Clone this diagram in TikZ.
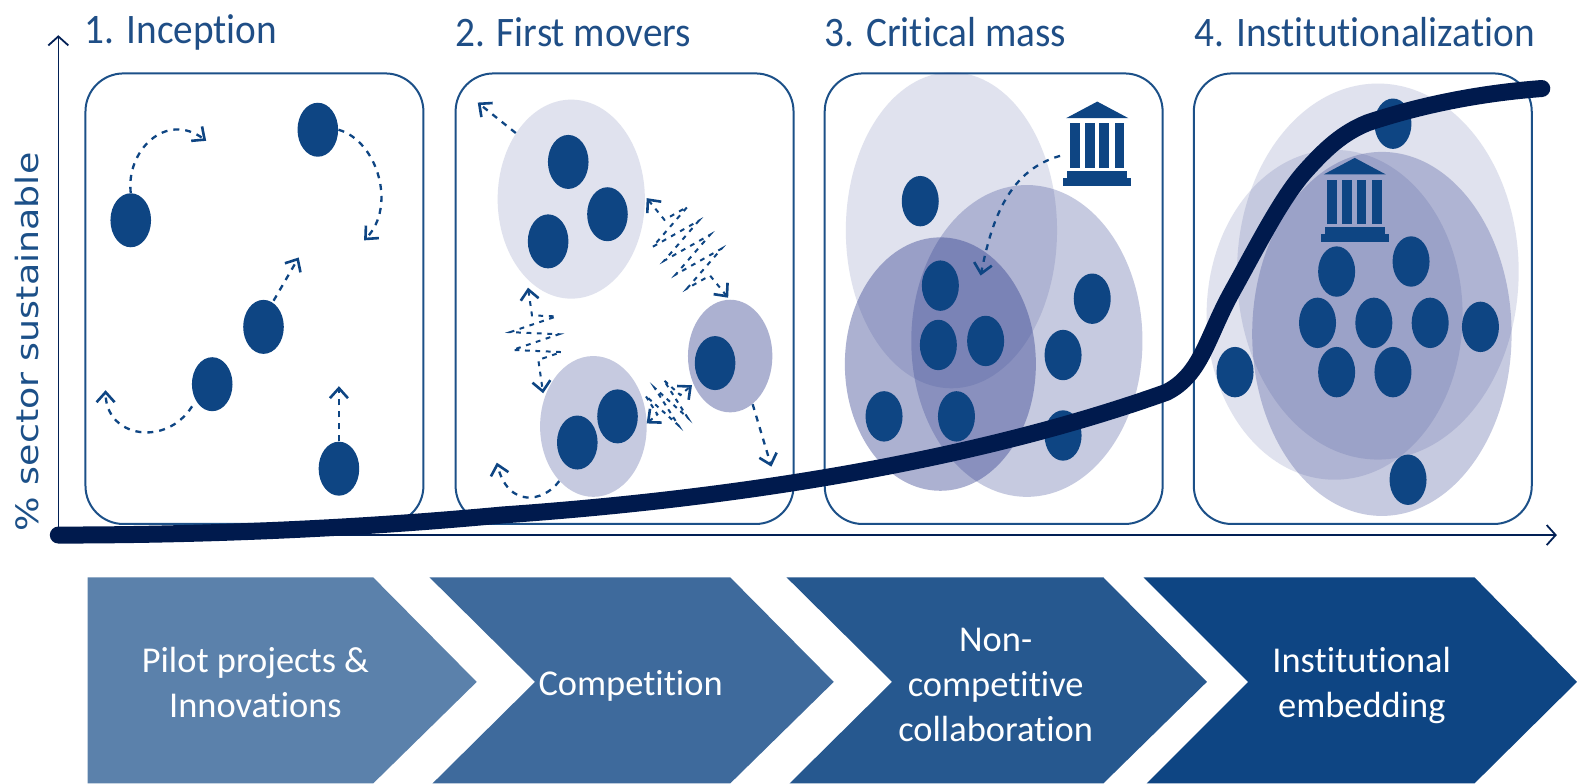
\documentclass[tikz,border=0pt]{standalone}
\usepackage{fontspec}
\setmainfont{Carlito}[Ligatures=NoCommon]
\newfontfamily\axisfont{DejaVu Sans}
\usetikzlibrary{arrows.meta,shapes.geometric,decorations.pathmorphing}
\definecolor{blue1}{HTML}{0E4583}
\definecolor{boxc}{HTML}{1C5088}
\definecolor{navy}{HTML}{001A4D}
\definecolor{tint}{HTML}{263488}
\definecolor{titlec}{HTML}{1F4E86}
\tikzset{
  dot/.style={ellipse,fill=blue1,draw=none,inner sep=0pt,minimum width=20.3pt,minimum height=27pt},
  dotb/.style={dot,minimum width=18.5pt,minimum height=25.2pt},
  stagebox/.style={draw=boxc,line width=1pt,rounded corners=19pt,fill=white},
  titletext/.style={font=\fontsize{21}{21}\selectfont,text=titlec,inner sep=0pt,xscale=.935},
  chevtext/.style={font=\fontsize{18.2}{22.5}\selectfont,text=white,align=center,inner sep=0pt},
  tipv/.tip={Straight Barb[length=5pt,width=9pt,line width=1.3pt]},
  flow/.style={draw=blue1,line width=1.15pt,dash pattern=on 3pt off 3pt,-tipv},
  flowboth/.style={flow,tipv-tipv},
  jag/.style={flowboth,line width=1pt,dash pattern=on 2.4pt off 2.8pt,decorate,decoration={zigzag,amplitude=#1,segment length=9pt,pre length=14pt,post length=14pt}},
  jagshort/.style={flowboth,line width=1pt,dash pattern=on 2.2pt off 2.4pt,decorate,decoration={zigzag,amplitude=#1,segment length=6pt,pre length=7pt,post length=7pt}},
  group/.style={ellipse,fill=tint,draw=none,inner sep=0pt},
  axisline/.style={draw=navy!85!blue1,line width=.8pt,-{Straight Barb[length=4.5pt,width=10pt,line width=.9pt]}},
}
\newcommand{\bank}[2]{%
  \begin{scope}[shift={(#1,#2)}]
    \fill[blue1] (0,0) -- (31,16.5) -- (-31,16.5) -- cycle;
    \fill[blue1] (-27.2,21.5) rectangle (-17.3,65.7);
    \fill[blue1] (-12.3,21.5) rectangle (-2.5,65.7);
    \fill[blue1] (2,21.5) rectangle (11.6,65.7);
    \fill[blue1] (17.3,21.5) rectangle (27,65.7);
    \fill[blue1] (-30,69) rectangle (30,76);
    \fill[blue1] (-34,76) rectangle (34,84);
  \end{scope}}
\begin{document}
\begin{tikzpicture}[x=0.50285pt,y=-0.50285pt]
\useasboundingbox (0,0) rectangle (1568,778.6);
% boxes
\draw[stagebox] (85,73) rectangle (421,521);
\draw[stagebox] (453,73) rectangle (789,521);
\draw[stagebox] (820,73) rectangle (1156,521);
\draw[stagebox] (1187,73) rectangle (1523,521);
% titles
\node[titletext] (t1) at (180,32) {1. Inception};
\node[titletext] (t2) at (570,32) {2. First movers};
\node[titletext] (t3) at (940,32) {3. Critical mass};
\node[titletext] (t4) at (1357,32) {4. Institutionalization};
% axes
\coordinate (origin) at (58,532);
\coordinate (ytop) at (58,35);
\coordinate (xend) at (1548,532);
\draw[axisline] (origin) -- (ytop);
\draw[axisline] (origin) -- (xend);
\node[rotate=90,xscale=1.18,font=\axisfont\fontsize{15.4}{18}\selectfont,text=boxc,inner sep=0pt] (ylab) at (27,340) {\% sector sustainable};
% stage 1
\node[dot] (a1) at (130,219) {};
\node[dot] (a2) at (316,129) {};
\node[dot] (a3) at (262,325) {};
\node[dot] (a4) at (211,382) {};
\node[dot] (a5) at (337,466) {};
\coordinate (a1e) at (205,140);
\coordinate (a2e) at (362,239);
\coordinate (a3e) at (297,256);
\coordinate (a4e) at (105,388);
\coordinate (a5e) at (337,384);
\draw[flow] (a1.north) .. controls (125,150) and (165,110) .. (a1e);
\draw[flow] (a2.east) .. controls (375,140) and (395,205) .. (a2e);
\draw[flow] (a3) ++(10,-26) -- (a3e);
\draw[flow] (a4) ++(-20,22) .. controls (165,445) and (105,435) .. (a4e);
\draw[flow] (a5.north) -- (a5e);
% stage 2
\node[group,fill opacity=.143,minimum width=73.6pt,minimum height=99.5pt] (g1) at (568,198) {};
\node[group,fill opacity=.26,minimum width=53.3pt,minimum height=70.4pt] (g2) at (590,424) {};
\node[group,fill opacity=.38,minimum width=42.2pt,minimum height=56.3pt] (g3) at (726,354) {};
\node[dot] (b1) at (565,161) {};
\node[dot] (b2) at (604,213) {};
\node[dot] (b3) at (545,240) {};
\node[dot] (b4) at (614,414) {};
\node[dot] (b5) at (574,440) {};
\node[dot] (b6) at (711,361) {};
\coordinate (b7e) at (475,102);
\coordinate (g3e) at (767,464);
\coordinate (g2e) at (494,460);
\coordinate (ac1) at (643,197);
\coordinate (ac2) at (724,296);
\coordinate (ab1) at (525,286);
\coordinate (ab2) at (540,391);
\coordinate (bc1) at (643,421);
\coordinate (bc2) at (688,383);
\draw[flow] (g1.130) -- (b7e);
\draw[flow] (g3.-65) -- (g3e);
\draw[flow] (g2.-122) .. controls (540,500) and (505,505) .. (g2e);
\draw[jag=13pt] (ac1) -- (ac2);
\draw[jag=12pt] (ab1) -- (ab2);
\draw[jagshort=11pt] (bc1) -- (bc2);
% stage 3
\node[group,fill opacity=.143,minimum width=105.6pt,minimum height=158pt] (c1) at (946,229) {};
\node[group,fill opacity=.26,minimum width=115.6pt,minimum height=155.9pt] (c2) at (1021,339) {};
\node[group,fill opacity=.38,minimum width=95.5pt,minimum height=126.7pt] (c3) at (935,362) {};
\node[dotb] (d1) at (915,200) {};
\node[dotb] (d2) at (935,284) {};
\node[dotb] (d3) at (933,343) {};
\node[dotb] (d4) at (980,339) {};
\node[dotb] (d5) at (1086,297) {};
\node[dotb] (d6) at (1057,353) {};
\node[dotb] (d7) at (879,414) {};
\node[dotb] (d8) at (951,414) {};
\node[dotb] (d9) at (1057,433) {};
\bank{1091}{101}
\coordinate (bk1) at (1054,155);
\coordinate (d2e) at (975,274);
\draw[flow] (bk1) .. controls (1000,170) and (985,225) .. (d2e);
% stage 4
\node[group,fill opacity=.143,minimum width=140.8pt,minimum height=188pt] (e1) at (1370,270) {};
\node[group,fill opacity=.143,minimum width=128pt,minimum height=164.9pt] (e2) at (1327,313) {};
\node[group,fill opacity=.26,minimum width=129.7pt,minimum height=182pt] (e3) at (1374,332) {};
\node[dotb] (f1) at (1385,123) {};
\node[dotb] (f2) at (1329,270) {};
\node[dotb] (f3) at (1403,260) {};
\node[dotb] (f4) at (1310,321) {};
\node[dotb] (f5) at (1366,321) {};
\node[dotb] (f6) at (1422,321) {};
\node[dotb] (f7) at (1472,325) {};
\node[dotb] (f8) at (1329,370) {};
\node[dotb] (f9) at (1385,370) {};
\node[dotb] (f10) at (1228,370) {};
\node[dotb] (f11) at (1400,477) {};
\bank{1347}{157}
% S-curve
\draw[navy,line width=8.5pt,line cap=round]
  (origin) .. controls (200,532) and (350,526) .. (500,512)
  .. controls (700,498) and (950,465) .. (1160,390)
  .. controls (1195,372) and (1200,335) .. (1225,290)
  .. controls (1250,245) and (1275,195) .. (1299,169)
  .. controls (1318,148) and (1335,132) .. (1360,122)
  .. controls (1420,102) and (1480,92) .. (1533,88);
% chevrons
\fill[blue1!68!white] (87,574) -- (371,574) -- (474,678) -- (371,779) -- (87,779) -- cycle;
\fill[blue1!80!white] (427,574) -- (726,574) -- (829,678) -- (726,779) -- (430,779) -- (532,678) -- cycle;
\fill[blue1!90!white] (782,574) -- (1097,574) -- (1200,678) -- (1097,779) -- (785,779) -- (887,678) -- cycle;
\fill[blue1] (1137,574) -- (1466,574) -- (1568,678) -- (1466,779) -- (1140,779) -- (1241,678) -- cycle;
\node[chevtext] (s1) at (254,679) {Pilot projects \&\\Innovations};
\node[chevtext] (s2) at (627,682) {Competition};
\node[chevtext] (s3) at (990,681) {Non-\\competitive\\collaboration};
\node[chevtext] (s4) at (1354,682) {Institutional\\embedding};
\end{tikzpicture}
\end{document}
